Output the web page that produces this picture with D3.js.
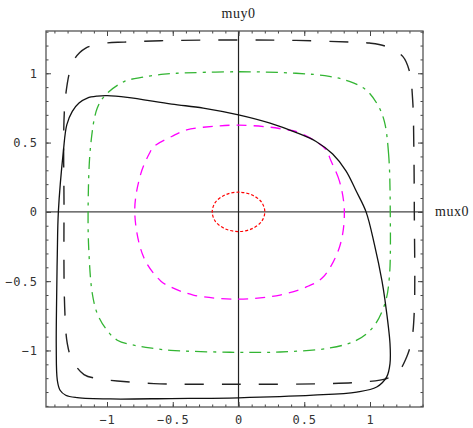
<!DOCTYPE html>
<html><head><meta charset="utf-8">
<script src="https://cdn.jsdelivr.net/npm/d3@7/dist/d3.min.js"></script>
<style>body{margin:0;background:#fff}svg{display:block}</style>
</head><body>
<svg id="c" width="473" height="428"></svg>
<script>
// tick labels
const xTicks = [-1, -0.5, 0, 0.5, 1];
const yTicks = [-1, -0.5, 0, 0.5, 1];
const xLabel = "mux0";
const yLabel = "muy0";

// curves ([mux0, muy0])
const redDotted = [[0.2,0],[0.175,0.07],[0.1,0.123],[0,0.142],[-0.1,0.123],[-0.175,0.07],[-0.2,0],[-0.175,-0.07],[-0.1,-0.123],[0,-0.142],[0.1,-0.123],[0.175,-0.07]];
const magentaDashed = [[0.805,0],[0.767,0.224],[0.703,0.368],[0.665,0.448],[0.56,0.525],[0.437,0.58],[0.366,0.592],[0.24,0.611],[0,0.626],[-0.19,0.617],[-0.394,0.592],[-0.508,0.544],[-0.643,0.472],[-0.68,0.417],[-0.744,0.272],[-0.789,0],[-0.72,-0.33],[-0.59,-0.5],[-0.52,-0.54],[-0.344,-0.6],[0,-0.63],[0.316,-0.6],[0.52,-0.54],[0.64,-0.474],[0.767,-0.257]];
const greenDashDot = [[1.154,0],[1.142,0.41],[1.109,0.653],[1.058,0.773],[0.97,0.88],[0.843,0.941],[0.69,0.978],[0.437,1.0],[0,1.011],[-0.47,1.0],[-0.567,0.994],[-0.72,0.973],[-0.87,0.94],[-1.01,0.845],[-1.074,0.749],[-1.124,0.484],[-1.144,0],[-1.137,-0.305],[-1.112,-0.589],[-1.074,-0.734],[-1.01,-0.842],[-0.922,-0.926],[-0.77,-0.967],[-0.643,-0.986],[-0.516,-0.999],[-0.065,-1.013],[0.316,-1.011],[0.696,-0.982],[0.899,-0.926],[1.025,-0.83],[1.114,-0.66],[1.147,-0.474]];
const blackDashed = [[1.337,0],[1.333,0.484],[1.325,0.797],[1.3,1.014],[1.249,1.122],[1.122,1.194],[0.995,1.218],[0.843,1.225],[0.437,1.237],[0,1.24],[-0.59,1.235],[-0.87,1.225],[-1.01,1.218],[-1.162,1.182],[-1.25,1.097],[-1.314,0.845],[-1.327,0],[-1.322,-0.686],[-1.302,-0.95],[-1.264,-1.071],[-1.175,-1.174],[-1.074,-1.203],[-0.922,-1.22],[-0.643,-1.239],[0,-1.244],[0.696,-1.239],[0.949,-1.227],[1.127,-1.203],[1.215,-1.155],[1.279,-1.047],[1.317,-0.926],[1.337,-0.71]];
const blackSolid = [[0.97,0],[0.894,0.152],[0.817,0.296],[0.716,0.417],[0.59,0.508],[0.45,0.568],[0.24,0.64],[0,0.70],[-0.268,0.749],[-0.508,0.778],[-0.846,0.826],[-0.998,0.838],[-1.074,0.835],[-1.15,0.821],[-1.213,0.785],[-1.264,0.725],[-1.306,0.628],[-1.332,0.436],[-1.37,0],[-1.378,-0.305],[-1.383,-0.614],[-1.386,-0.975],[-1.378,-1.215],[-1.357,-1.287],[-1.314,-1.323],[-1.226,-1.34],[-0.972,-1.35],[-0.516,-1.347],[0,-1.342],[0.569,-1.323],[0.899,-1.30],[1.051,-1.264],[1.127,-1.191],[1.152,-1.095],[1.152,-0.95],[1.114,-0.638],[1.091,-0.498],[1.033,-0.233]];

const svg = d3.select("#c");
const L=46,R=423,T=31,B=407;
const x = d3.scaleLinear().domain([-1.464, 1.403]).range([L, R]);
const y = d3.scaleLinear().domain([-1.408, 1.305]).range([B, T]);

svg.append("clipPath").attr("id","clip").append("rect")
  .attr("x",L).attr("y",T).attr("width",R-L).attr("height",B-T);

// zero axes
const g = svg.append("g").attr("clip-path","url(#clip)");
g.append("line").attr("x1",L).attr("x2",R).attr("y1",y(0)).attr("y2",y(0)).attr("stroke","#444").attr("stroke-width",1.2);
g.append("line").attr("x1",x(0)).attr("x2",x(0)).attr("y1",T).attr("y2",B).attr("stroke","#222").attr("stroke-width",1.2);

const line = d3.line().x(d=>x(d[0])).y(d=>y(d[1])).curve(d3.curveCatmullRomClosed.alpha(0.5));
const curves = [
  {d:redDotted, c:"#ff0000", dash:"3,2", w:1.2},
  {d:magentaDashed, c:"#ff00ff", dash:"10,7", w:1.3},
  {d:greenDashDot, c:"#33b533", dash:"12,6,3,6", w:1.3},
  {d:blackDashed, c:"#222", dash:"19,18", w:1.4},
  {d:blackSolid, c:"#111", dash:null, w:1.3}
];
curves.forEach(cv=>{
  g.append("path").attr("d",line(cv.d)).attr("fill","none").attr("stroke",cv.c)
   .attr("stroke-width",cv.w).attr("stroke-dasharray",cv.dash);
});

// frame ticks
const minorX = d3.range(-14,15).map(v=>v/10);
const minorY = d3.range(-14,14).map(v=>v/10);
function addAxis(axisFn, scale, vals, size, tf, transform){
  const a = axisFn(scale).tickValues(vals).tickSize(size).tickPadding(8)
    .tickFormat(tf ? (d=>String(d).replace("-","\u2212")) : "");
  const ax = svg.append("g").attr("transform",transform).call(a);
  ax.select(".domain").remove();
  ax.selectAll(".tick line").attr("stroke","#444");
  ax.selectAll("text").attr("font-family","DejaVu Sans Mono, monospace").attr("font-size",12)
    .attr("letter-spacing","1px").attr("fill","#333");
  return ax;
}
addAxis(d3.axisBottom, x, minorX, -2.5, false, `translate(0,${B})`);
addAxis(d3.axisBottom, x, xTicks, -5, true, `translate(0,${B})`);
addAxis(d3.axisTop, x, minorX, -2.5, false, `translate(0,${T})`);
addAxis(d3.axisTop, x, xTicks, -5, false, `translate(0,${T})`);
addAxis(d3.axisLeft, y, minorY, -2.5, false, `translate(${L},0)`);
addAxis(d3.axisLeft, y, yTicks, -5, true, `translate(${L},0)`);
addAxis(d3.axisRight, y, minorY, -2.5, false, `translate(${R},0)`);
addAxis(d3.axisRight, y, yTicks, -5, false, `translate(${R},0)`);

svg.append("rect").attr("x",L).attr("y",T).attr("width",R-L).attr("height",B-T)
  .attr("fill","none").attr("stroke","#555").attr("stroke-width",1.3);

svg.append("text").attr("x",x(0)).attr("y",18).attr("text-anchor","middle")
  .attr("font-family","Liberation Serif, serif").attr("font-size",14).attr("letter-spacing","0.5px").attr("fill","#222").text(yLabel);
svg.append("text").attr("x",435).attr("y",y(0)+4).attr("text-anchor","start")
  .attr("font-family","Liberation Serif, serif").attr("font-size",14).attr("letter-spacing","0.5px").attr("fill","#222").text(xLabel);
</script>
</body></html>
